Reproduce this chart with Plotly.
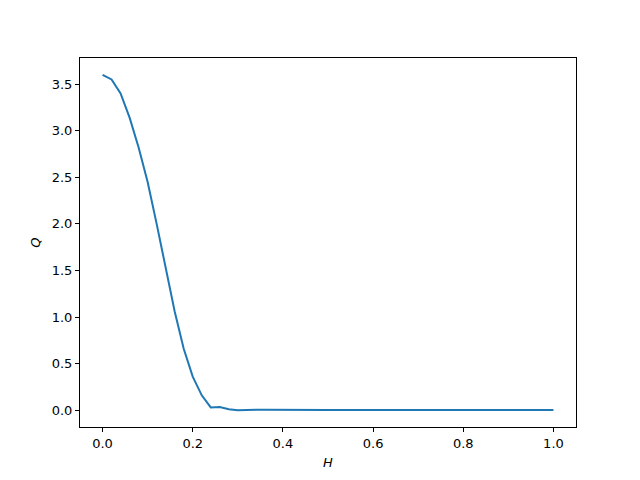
import plotly.graph_objects as go

H = [0.00, 0.02, 0.04, 0.06, 0.08, 0.10, 0.12, 0.14, 0.16, 0.18, 0.20,
     0.22, 0.24, 0.26, 0.28, 0.30, 0.32, 0.34, 0.36, 0.38, 0.40,
     0.42, 0.44, 0.46, 0.48, 0.50, 0.52, 0.54, 0.56, 0.58, 0.60,
     0.62, 0.64, 0.66, 0.68, 0.70, 0.72, 0.74, 0.76, 0.78, 0.80,
     0.82, 0.84, 0.86, 0.88, 0.90, 0.92, 0.94, 0.96, 0.98, 1.00]
Q = [3.60, 3.55, 3.40, 3.14, 2.82, 2.45, 2.00, 1.53, 1.06, 0.66, 0.36,
     0.16, 0.03, 0.035, 0.01, 0.00, 0.004, 0.004, 0.004, 0.005, 0.006,
     0.006, 0.005, 0.004, 0.004, 0.003, 0.003, 0.002, 0.002, 0.002, 0.002,
     0.002, 0.003, 0.003, 0.003, 0.003, 0.002, 0.002, 0.002, 0.002, 0.002,
     0.002, 0.002, 0.002, 0.002, 0.002, 0.002, 0.002, 0.002, 0.002, 0.002]

x_ticks = [0.0, 0.2, 0.4, 0.6, 0.8, 1.0]
x_labels = ["0.0", "0.2", "0.4", "0.6", "0.8", "1.0"]
y_ticks = [0.0, 0.5, 1.0, 1.5, 2.0, 2.5, 3.0, 3.5]
y_labels = ["0.0", "0.5", "1.0", "1.5", "2.0", "2.5", "3.0", "3.5"]

fig = go.Figure(go.Scatter(x=H, y=Q, mode="lines",
                           line=dict(color="#1f77b4", width=2)))

axis_common = dict(showline=True, linecolor="black", linewidth=1, mirror=True,
                   ticks="outside", ticklen=4, tickwidth=1, tickcolor="black",
                   showgrid=False, zeroline=False,
                   tickfont=dict(family="DejaVu Sans", size=13, color="black"))

fig.update_layout(
    width=640, height=480,
    margin=dict(l=72, r=72, t=50, b=61),
    paper_bgcolor="white", plot_bgcolor="white",
    showlegend=False,
    xaxis=dict(range=[-0.05, 1.05], tickvals=x_ticks, ticktext=x_labels,
               title=dict(text="<i>H</i>", font=dict(family="DejaVu Sans", size=13, color="black"),
                          standoff=8),
               **axis_common),
    yaxis=dict(range=[-0.18, 3.78], tickvals=y_ticks, ticktext=y_labels,
               title=dict(text="<i>Q</i>", font=dict(family="DejaVu Sans", size=13, color="black"),
                          standoff=8),
               **axis_common),
)

fig.write_html("out.html")
